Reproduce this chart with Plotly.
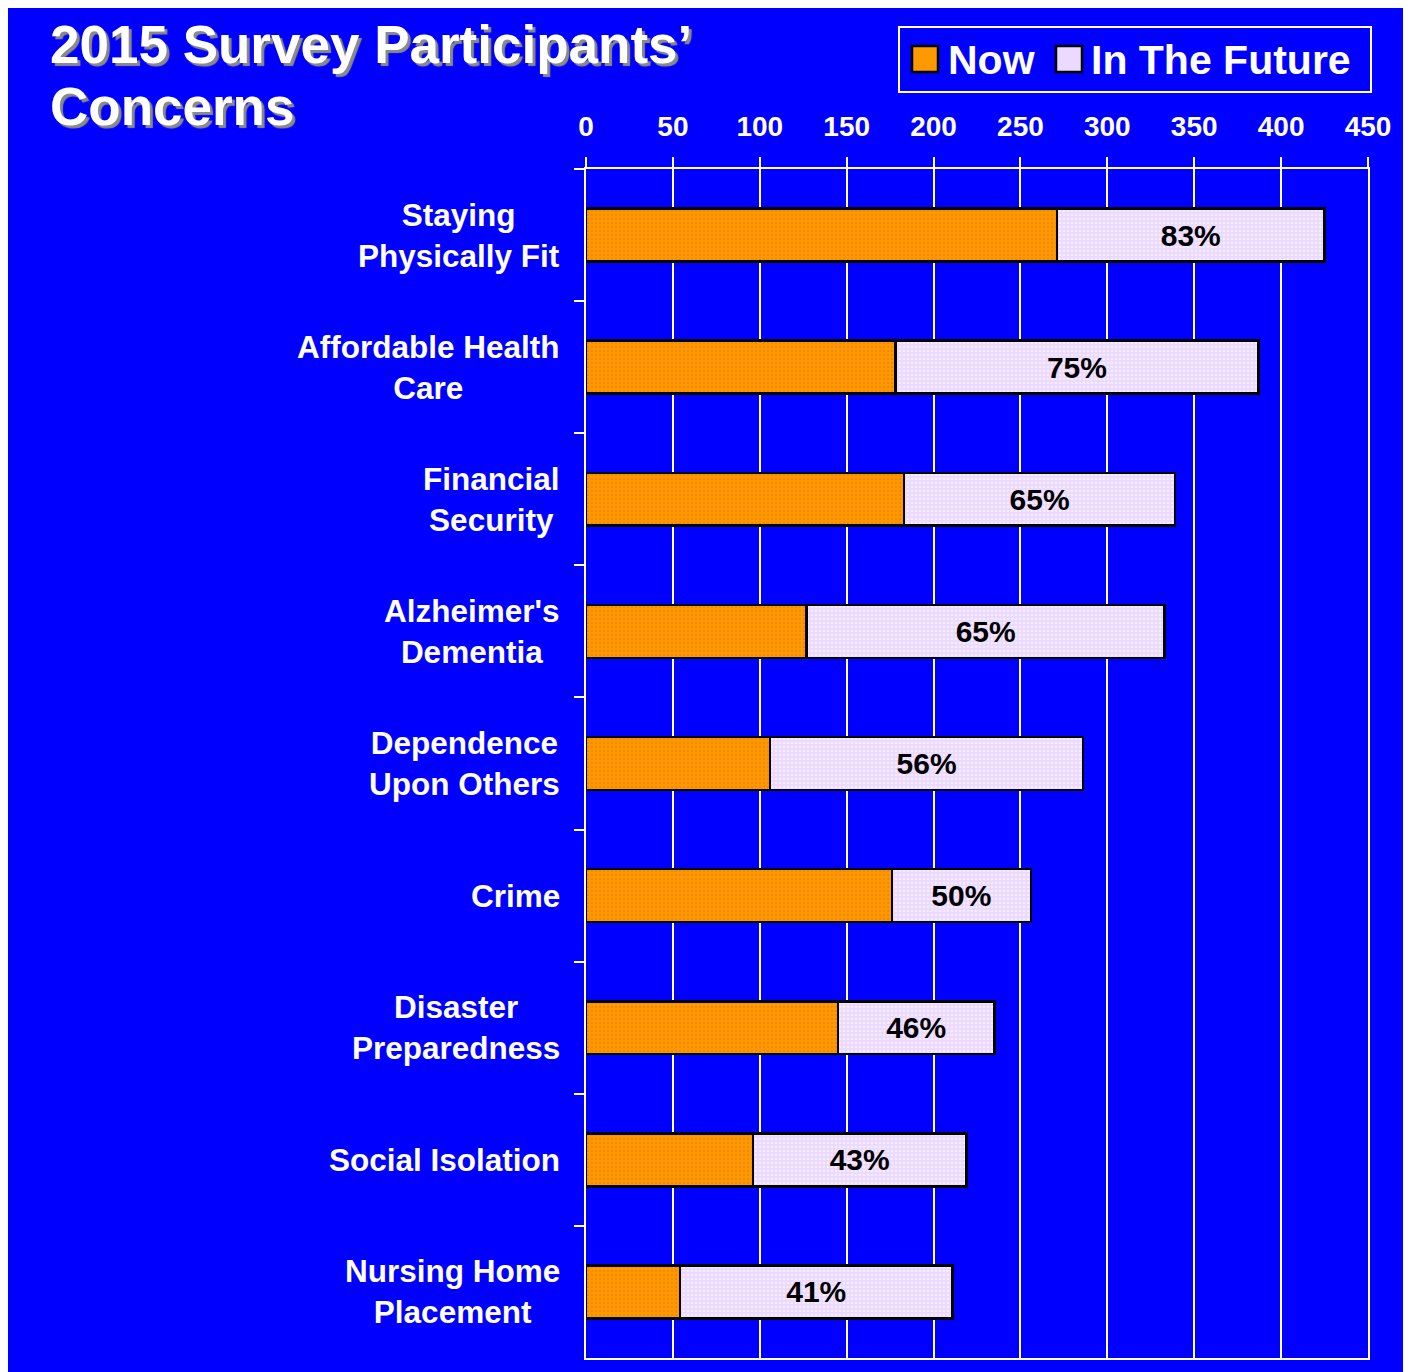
import plotly.graph_objects as go

categories = [
    "Staying<br>Physically Fit",
    "Affordable Health<br>Care",
    "Financial<br>Security",
    "Alzheimer's<br>Dementia",
    "Dependence<br>Upon Others",
    "Crime",
    "Disaster<br>Preparedness",
    "Social Isolation",
    "Nursing Home<br>Placement",
]
now_values = [271, 178, 183, 127, 106, 176, 145, 96, 54]
future_values = [154, 209, 156, 206, 180, 80, 90, 123, 157]
future_pct = ["83%", "75%", "65%", "65%", "56%", "50%", "46%", "43%", "41%"]
x_ticks = [0, 50, 100, 150, 200, 250, 300, 350, 400, 450]
title_lines = ["2015 Survey Participants’", "Concerns"]

W, H = 1404, 1364
ML, MR, MT, MB = 578, 44, 161, 14
PW, PH = W - ML - MR, H - MT - MB
BLUE = "#0000FF"
FONT = "Arial, Liberation Sans, sans-serif"


def px(X):
    return (X - ML) / PW


def py(Y):
    return 1 - (Y - MT) / PH


fig = go.Figure()
fig.add_trace(go.Bar(
    y=categories, x=now_values, orientation="h", name="Now",
    marker=dict(color="#FF9900", line=dict(color="black", width=2.5),
                pattern=dict(shape=".", size=4, solidity=0.35, fgcolor="#E87A00", fillmode="overlay")),
    showlegend=False,
))
fig.add_trace(go.Bar(
    y=categories, x=future_values, orientation="h", name="In The Future",
    marker=dict(color="#EBD9FF", line=dict(color="black", width=2.5),
                pattern=dict(shape=".", size=4, solidity=0.35, fgcolor="#FFFFFF", fillmode="overlay")),
    text=future_pct, textposition="inside", insidetextanchor="middle", textangle=0,
    textfont=dict(family=FONT, size=30, color="black", weight="bold"),
    showlegend=False,
))

fig.update_layout(
    width=W, height=H,
    margin=dict(l=ML, r=MR, t=MT, b=MB, pad=0),
    paper_bgcolor=BLUE, plot_bgcolor=BLUE,
    barmode="stack", bargap=0.6,
    uniformtext=dict(minsize=30, mode="show"),
    font=dict(family=FONT, color="white"),
)
fig.update_xaxes(
    side="top", range=[0, 450], tickvals=x_ticks,
    showgrid=True, gridcolor="white", gridwidth=2,
    showline=True, linecolor="white", linewidth=2, mirror=True,
    ticks="outside", ticklen=10, tickwidth=2, tickcolor="white",
    tickfont=dict(family=FONT, size=28, color="white", weight="bold"),
    ticklabelstandoff=10, zeroline=False,
)
fig.update_yaxes(
    autorange="reversed", showticklabels=False, showgrid=False,
    showline=True, linecolor="white", linewidth=2, mirror=True,
    ticks="outside", ticklen=10, tickwidth=2, tickcolor="white", tickson="boundaries",
)

# category labels (centered lines, right-aligned block)
for c in categories:
    fig.add_annotation(
        x=0, xref="paper", y=c, yref="y", text=c, showarrow=False,
        xanchor="right", yanchor="middle", align="center", xshift=-24,
        font=dict(family=FONT, size=31.5, color="white", weight="bold"),
    )

# title
for line, yc in zip(title_lines, [44, 106]):
    fig.add_annotation(
        x=px(40), y=py(yc - 8), xref="paper", yref="paper",
        text=line, showarrow=False, xanchor="left", yanchor="middle", align="left",
        font=dict(family=FONT, size=53, color="white", weight="bold", shadow="3px 3px 1px #8a8a8a"),
    )

# legend (manual)
fig.add_shape(type="rect", xref="paper", yref="paper",
              x0=px(891), x1=px(1363), y0=py(19), y1=py(84),
              line=dict(color="white", width=2), fillcolor=BLUE)
fig.add_shape(type="rect", xref="paper", yref="paper",
              x0=px(904), x1=px(930), y0=py(38), y1=py(64),
              line=dict(color="black", width=2.5), fillcolor="#FF9900")
fig.add_shape(type="rect", xref="paper", yref="paper",
              x0=px(1048), x1=px(1074), y0=py(38), y1=py(64),
              line=dict(color="black", width=2.5), fillcolor="#EBD9FF")
fig.add_annotation(x=px(938), y=py(52), xref="paper", yref="paper", text="Now",
                   showarrow=False, xanchor="left", yanchor="middle",
                   font=dict(family=FONT, size=41, color="white", weight="bold"))
fig.add_annotation(x=px(1081), y=py(52), xref="paper", yref="paper", text="In The Future",
                   showarrow=False, xanchor="left", yanchor="middle",
                   font=dict(family=FONT, size=41, color="white", weight="bold"))

fig.write_html("out.html")
